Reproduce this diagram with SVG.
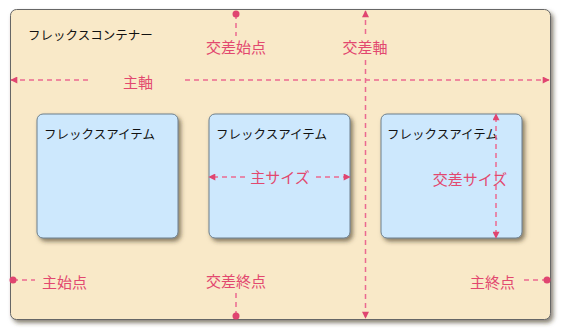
<svg xmlns="http://www.w3.org/2000/svg" width="563" height="333" viewBox="0 0 563 333">
<defs>
<style>
.black{font-family:"Noto Sans CJK JP","Noto Sans",sans-serif;font-size:12.5px;fill:#111}
.red{font-family:"Noto Sans CJK JP","Noto Sans",sans-serif;font-size:15px;fill:#e2486f}
.dash{fill:none;stroke:#eb6a90;stroke-width:1.5;stroke-dasharray:5 4}
.dot{fill:#e04570}
.item{fill:#cde8fd;stroke:#6d7f8c;stroke-width:1}
</style>
<filter id="sh" x="-10%" y="-10%" width="130%" height="130%">
<feDropShadow dx="2.5" dy="3" stdDeviation="2" flood-color="#3a3320" flood-opacity="0.6"/>
</filter>
<marker id="ah" viewBox="0 0 10 10" refX="9" refY="5" markerWidth="8" markerHeight="7" markerUnits="userSpaceOnUse" orient="auto">
<path d="M0,0 L10,5 L0,10 Z" fill="#e04570"/>
</marker>
</defs>
<g id="container">
<rect x="10.5" y="9.5" width="540" height="310" rx="6" fill="#f9e9c8" stroke="#666" stroke-width="1" filter="url(#sh)"/>
<text class="black" x="28" y="40">フレックスコンテナー</text>
</g>
<g id="item1">
<rect class="item" x="37" y="114" width="141" height="124" rx="6" filter="url(#sh)"/>
<text class="black" x="44" y="139">フレックスアイテム</text>
</g>
<g id="item2">
<rect class="item" x="209" y="114" width="141" height="124" rx="6" filter="url(#sh)"/>
<text class="black" x="216" y="139">フレックスアイテム</text>
</g>
<g id="item3">
<rect class="item" x="381" y="114" width="141" height="124" rx="6" filter="url(#sh)"/>
<text class="black" x="387" y="139">フレックスアイテム</text>
</g>
<g id="connectors">
<path class="dash" d="M88,80 L11,80" marker-end="url(#ah)"/>
<path class="dash" d="M185,80 L549,80" marker-end="url(#ah)"/>
<path class="dash" d="M365.5,34 L365.5,11" marker-end="url(#ah)"/>
<path class="dash" d="M365.5,60 L365.5,318" marker-end="url(#ah)"/>
<path class="dash" d="M236,14 L236,36"/>
<circle class="dot" cx="236" cy="14" r="3.5"/>
<path class="dash" d="M236,293 L236,316"/>
<circle class="dot" cx="236" cy="316" r="3.5"/>
<path class="dash" d="M13,280 L35,280"/>
<circle class="dot" cx="13" cy="280" r="3.5"/>
<path class="dash" d="M524,280 L547,280"/>
<circle class="dot" cx="547" cy="280" r="3.5"/>
<path class="dash" d="M245,177 L209,177" marker-end="url(#ah)"/>
<path class="dash" d="M316,177 L350,177" marker-end="url(#ah)"/>
<path class="dash" d="M496,176 L496,114" marker-end="url(#ah)"/>
<path class="dash" d="M496,176 L496,238" marker-end="url(#ah)"/>
</g>
<g id="labels">
<text class="red" x="138" y="88" text-anchor="middle">主軸</text>
<text class="red" x="365" y="53" text-anchor="middle">交差軸</text>
<text class="red" x="236" y="53" text-anchor="middle">交差始点</text>
<text class="red" x="236" y="287" text-anchor="middle">交差終点</text>
<text class="red" x="42" y="288">主始点</text>
<text class="red" x="515" y="288" text-anchor="end">主終点</text>
<text class="red" x="280" y="183" text-anchor="middle">主サイズ</text>
<text class="red" x="470" y="185" text-anchor="middle">交差サイズ</text>
</g>
</svg>
